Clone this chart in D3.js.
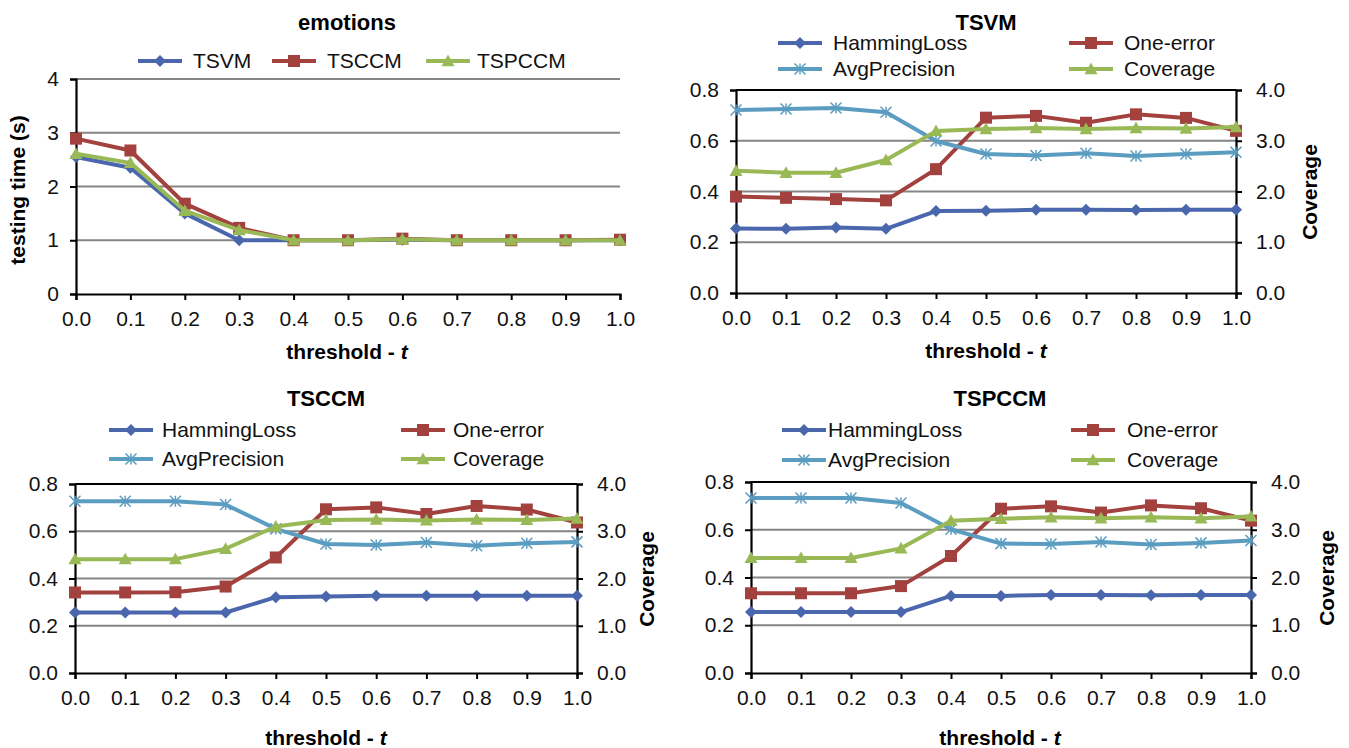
<!DOCTYPE html>
<html>
<head>
<meta charset="utf-8">
<script src="https://cdn.jsdelivr.net/npm/d3@7"></script>
<style>
  body { margin: 0; background: #fff; }
  svg { display: block; font-family: "Liberation Sans", Arial, sans-serif; }
</style>
</head>
<body>
<div id="container"></div>
<script>
// thresholds on the x axis
const thresholds = [0.0, 0.1, 0.2, 0.3, 0.4, 0.5, 0.6, 0.7, 0.8, 0.9, 1.0];

// emotions - testing time (s)
const emotionsTSVM   = [2.55, 2.35, 1.50, 1.00, 1.00, 1.00, 1.01, 1.00, 1.00, 1.00, 1.00];
const emotionsTSCCM  = [2.89, 2.67, 1.68, 1.23, 1.00, 1.00, 1.03, 1.00, 1.00, 1.00, 1.01];
const emotionsTSPCCM = [2.61, 2.44, 1.55, 1.19, 1.00, 1.00, 1.02, 1.00, 1.00, 1.00, 1.00];

// TSVM metrics
const tsvmHamming  = [0.254, 0.253, 0.258, 0.253, 0.323, 0.324, 0.328, 0.328, 0.327, 0.328, 0.328];
const tsvmOneError = [0.380, 0.375, 0.370, 0.365, 0.488, 0.691, 0.698, 0.671, 0.704, 0.690, 0.639];
const tsvmAvgPrec  = [0.721, 0.725, 0.729, 0.712, 0.599, 0.548, 0.542, 0.551, 0.540, 0.548, 0.555];
const tsvmCoverage = [2.41, 2.37, 2.37, 2.62, 3.19, 3.23, 3.25, 3.23, 3.25, 3.24, 3.27];

// TSCCM metrics
const tsccmHamming  = [0.256, 0.256, 0.256, 0.256, 0.321, 0.324, 0.327, 0.327, 0.327, 0.327, 0.327];
const tsccmOneError = [0.341, 0.341, 0.342, 0.366, 0.489, 0.693, 0.701, 0.673, 0.707, 0.692, 0.637];
const tsccmAvgPrec  = [0.727, 0.727, 0.727, 0.713, 0.610, 0.546, 0.542, 0.552, 0.539, 0.549, 0.555];
const tsccmCoverage = [2.41, 2.41, 2.41, 2.63, 3.10, 3.24, 3.25, 3.23, 3.25, 3.24, 3.27];

// TSPCCM metrics
const tspccmHamming  = [0.255, 0.255, 0.255, 0.255, 0.323, 0.323, 0.327, 0.327, 0.326, 0.327, 0.327];
const tspccmOneError = [0.334, 0.334, 0.334, 0.364, 0.490, 0.688, 0.698, 0.672, 0.702, 0.690, 0.638];
const tspccmAvgPrec  = [0.733, 0.733, 0.733, 0.712, 0.602, 0.542, 0.540, 0.549, 0.538, 0.545, 0.555];
const tspccmCoverage = [2.41, 2.41, 2.41, 2.61, 3.19, 3.23, 3.26, 3.24, 3.26, 3.24, 3.28];

const leftTicks = [0, 1, 2, 3, 4];
const metricTicks = [0.0, 0.2, 0.4, 0.6, 0.8];
const coverageTicks = [0, 1, 2, 3, 4];

const colors = {blue: "#4A67AE", red: "#A3413E", aqua: "#5B9CC1", green: "#99B957"};

const w = 1349, h = 748,
      legLineLen = 44;

const svg = d3.select("#container")
    .append("svg")
    .attr("width", w)
    .attr("height", h);

function markerPath(type, s) {
    // s = half size
    if (type == "diamond")
        return `M0,${-s}L${s},0L0,${s}L${-s},0Z`;
    if (type == "square")
        return `M${-s},${-s}H${s}V${s}H${-s}Z`;
    if (type == "triangle")
        return `M0,${-s}L${s},${s * 0.8}L${-s},${s * 0.8}Z`;
    // asterisk
    return `M${-s},${-s}L${s},${s}M${-s},${s}L${s},${-s}M0,${-s}V${s}`;
}

const markerSize = {diamond: 6, square: 6, triangle: 6.5, asterisk: 5.5};

function drawMarker(g, type, color, x, y) {
    const p = g.append("path")
        .attr("transform", "translate(" + x + "," + y + ")")
        .attr("d", markerPath(type, markerSize[type]));
    if (type == "asterisk")
        p.attr("fill", "none").attr("stroke", color).attr("stroke-width", 1.5);
    else
        p.attr("fill", color);
}

function drawPanel(cfg) {
    const g = svg.append("g");
    const x = d3.scaleLinear().domain([0, 1]).range([cfg.x0, cfg.x1]);
    const y = d3.scaleLinear().domain(cfg.yDomain).range([cfg.yBottom, cfg.yTop]);
    const y2 = cfg.y2Domain ? d3.scaleLinear().domain(cfg.y2Domain).range([cfg.yBottom, cfg.yTop]) : null;

    // gridlines
    g.append("g")
        .selectAll("line")
        .data(cfg.yTicks.slice(1))
        .enter()
        .append("line")
        .attr("x1", cfg.x0).attr("x2", cfg.x1)
        .attr("y1", d => y(d)).attr("y2", d => y(d))
        .attr("stroke", "#858585")
        .attr("stroke-width", 2);

    // left axis
    const leftAxis = d3.axisLeft(y)
        .tickValues(cfg.yTicks)
        .tickSize(6)
        .tickPadding(11)
        .tickFormat(cfg.yFormat);
    const la = g.append("g")
        .attr("transform", "translate(" + cfg.x0 + ",0)")
        .call(leftAxis);

    // bottom axis
    const bottomAxis = d3.axisBottom(x)
        .tickValues(thresholds)
        .tickSize(6)
        .tickPadding(11)
        .tickFormat(d3.format(".1f"));
    const ba = g.append("g")
        .attr("transform", "translate(0," + cfg.yBottom + ")")
        .call(bottomAxis);

    const axes = [la, ba];

    if (y2) {
        const rightAxis = d3.axisRight(y2)
            .tickValues(coverageTicks)
            .tickSize(6)
            .tickPadding(14)
            .tickFormat(d3.format(".1f"));
        const ra = g.append("g")
            .attr("transform", "translate(" + cfg.x1 + ",0)")
            .call(rightAxis);
        axes.push(ra);
        // top border
        g.append("line")
            .attr("x1", cfg.x0).attr("x2", cfg.x1)
            .attr("y1", cfg.yTop).attr("y2", cfg.yTop)
            .attr("stroke", "#000").attr("stroke-width", 2);
    }

    axes.forEach(a => {
        a.select(".domain").attr("stroke", "#000").attr("stroke-width", 2.2);
        a.selectAll(".tick line").attr("stroke", "#000").attr("stroke-width", 2);
        a.selectAll(".tick text")
            .attr("fill", "#111")
            .style("font-size", "21px")
            .style("font-family", "\"Liberation Sans\", Arial, sans-serif");
    });

    // series
    const line = d3.line()
        .x((d, i) => x(thresholds[i]));

    cfg.series.forEach(s => {
        const scale = s.secondary ? y2 : y;
        g.append("path")
            .datum(s.values)
            .attr("fill", "none")
            .attr("stroke", s.color)
            .attr("stroke-width", 4)
            .attr("stroke-linejoin", "round")
            .attr("d", line.y(d => scale(d)));
        s.values.forEach((v, i) => drawMarker(g, s.marker, s.color, x(thresholds[i]), scale(v)));
    });

    // title
    g.append("text")
        .attr("x", cfg.titleX)
        .attr("y", cfg.titleY)
        .attr("text-anchor", "middle")
        .attr("dy", "0.35em")
        .style("font-size", "22px")
        .style("font-weight", "bold")
        .text(cfg.title);

    // x axis title
    const xt = g.append("text")
        .attr("x", cfg.titleX)
        .attr("y", cfg.xTitleY)
        .attr("text-anchor", "middle")
        .attr("dy", "0.35em")
        .style("font-size", "21px")
        .style("font-weight", "bold");
    xt.append("tspan").text("threshold - ");
    xt.append("tspan").style("font-style", "italic").text("t");

    // y axis title
    g.append("text")
        .attr("transform", "translate(" + cfg.yTitleX + "," + cfg.yTitleY + ") rotate(-90)")
        .attr("text-anchor", "middle")
        .attr("dy", "0.35em")
        .style("font-size", "21px")
        .style("font-weight", "bold")
        .text(cfg.yTitle);

    // legend
    cfg.series.forEach((s, i) => {
        const pos = cfg.legend[i];
        const lg = g.append("g");
        lg.append("line")
            .attr("x1", pos[0]).attr("x2", pos[0] + legLineLen)
            .attr("y1", pos[1]).attr("y2", pos[1])
            .attr("stroke", s.color)
            .attr("stroke-width", 4);
        drawMarker(lg, s.marker, s.color, pos[0] + legLineLen / 2, pos[1]);
        lg.append("text")
            .attr("x", pos[2])
            .attr("y", pos[1])
            .attr("dy", "0.35em")
            .style("font-size", "21px")
            .attr("fill", "#111")
            .text(s.name);
    });
}

function metricSeries(ham, one, avg, cov) {
    return [
        {name: "HammingLoss", values: ham, color: colors.blue, marker: "diamond"},
        {name: "One-error", values: one, color: colors.red, marker: "square"},
        {name: "AvgPrecision", values: avg, color: colors.aqua, marker: "asterisk"},
        {name: "Coverage", values: cov, color: colors.green, marker: "triangle", secondary: true}
    ];
}

drawPanel({
    title: "emotions", titleX: 347, titleY: 22, xTitleY: 352,
    yTitle: "testing time (s)", yTitleX: 18, yTitleY: 190,
    x0: 76, x1: 620, yTop: 79, yBottom: 294,
    yDomain: [0, 4], yTicks: leftTicks, yFormat: d3.format("d"),
    series: [
        {name: "TSVM", values: emotionsTSVM, color: colors.blue, marker: "diamond"},
        {name: "TSCCM", values: emotionsTSCCM, color: colors.red, marker: "square"},
        {name: "TSPCCM", values: emotionsTSPCCM, color: colors.green, marker: "triangle"}
    ],
    legend: [[138, 61, 193], [272, 61, 327], [426, 61, 477]]
});

drawPanel({
    title: "TSVM", titleX: 986, titleY: 22, xTitleY: 351,
    yTitle: "Coverage", yTitleX: 1310, yTitleY: 192,
    x0: 736, x1: 1236, yTop: 90, yBottom: 293,
    yDomain: [0, 0.8], yTicks: metricTicks, yFormat: d3.format(".1f"),
    y2Domain: [0, 4],
    series: metricSeries(tsvmHamming, tsvmOneError, tsvmAvgPrec, tsvmCoverage),
    legend: [[778, 43, 833], [1069, 43, 1124], [778, 69, 833], [1069, 69, 1124]]
});

drawPanel({
    title: "TSCCM", titleX: 326, titleY: 398, xTitleY: 738,
    yTitle: "Coverage", yTitleX: 647, yTitleY: 579,
    x0: 75, x1: 577, yTop: 484, yBottom: 673,
    yDomain: [0, 0.8], yTicks: metricTicks, yFormat: d3.format(".1f"),
    y2Domain: [0, 4],
    series: metricSeries(tsccmHamming, tsccmOneError, tsccmAvgPrec, tsccmCoverage),
    legend: [[109, 430, 162], [401, 430, 453], [109, 459, 162], [401, 459, 453]]
});

drawPanel({
    title: "TSPCCM", titleX: 1000, titleY: 398, xTitleY: 738,
    yTitle: "Coverage", yTitleX: 1327, yTitleY: 578,
    x0: 751, x1: 1251, yTop: 482, yBottom: 673,
    yDomain: [0, 0.8], yTicks: metricTicks, yFormat: d3.format(".1f"),
    y2Domain: [0, 4],
    series: metricSeries(tspccmHamming, tspccmOneError, tspccmAvgPrec, tspccmCoverage),
    legend: [[782, 430, 828], [1071, 430, 1127], [782, 460, 828], [1071, 460, 1127]]
});
</script>
</body>
</html>
